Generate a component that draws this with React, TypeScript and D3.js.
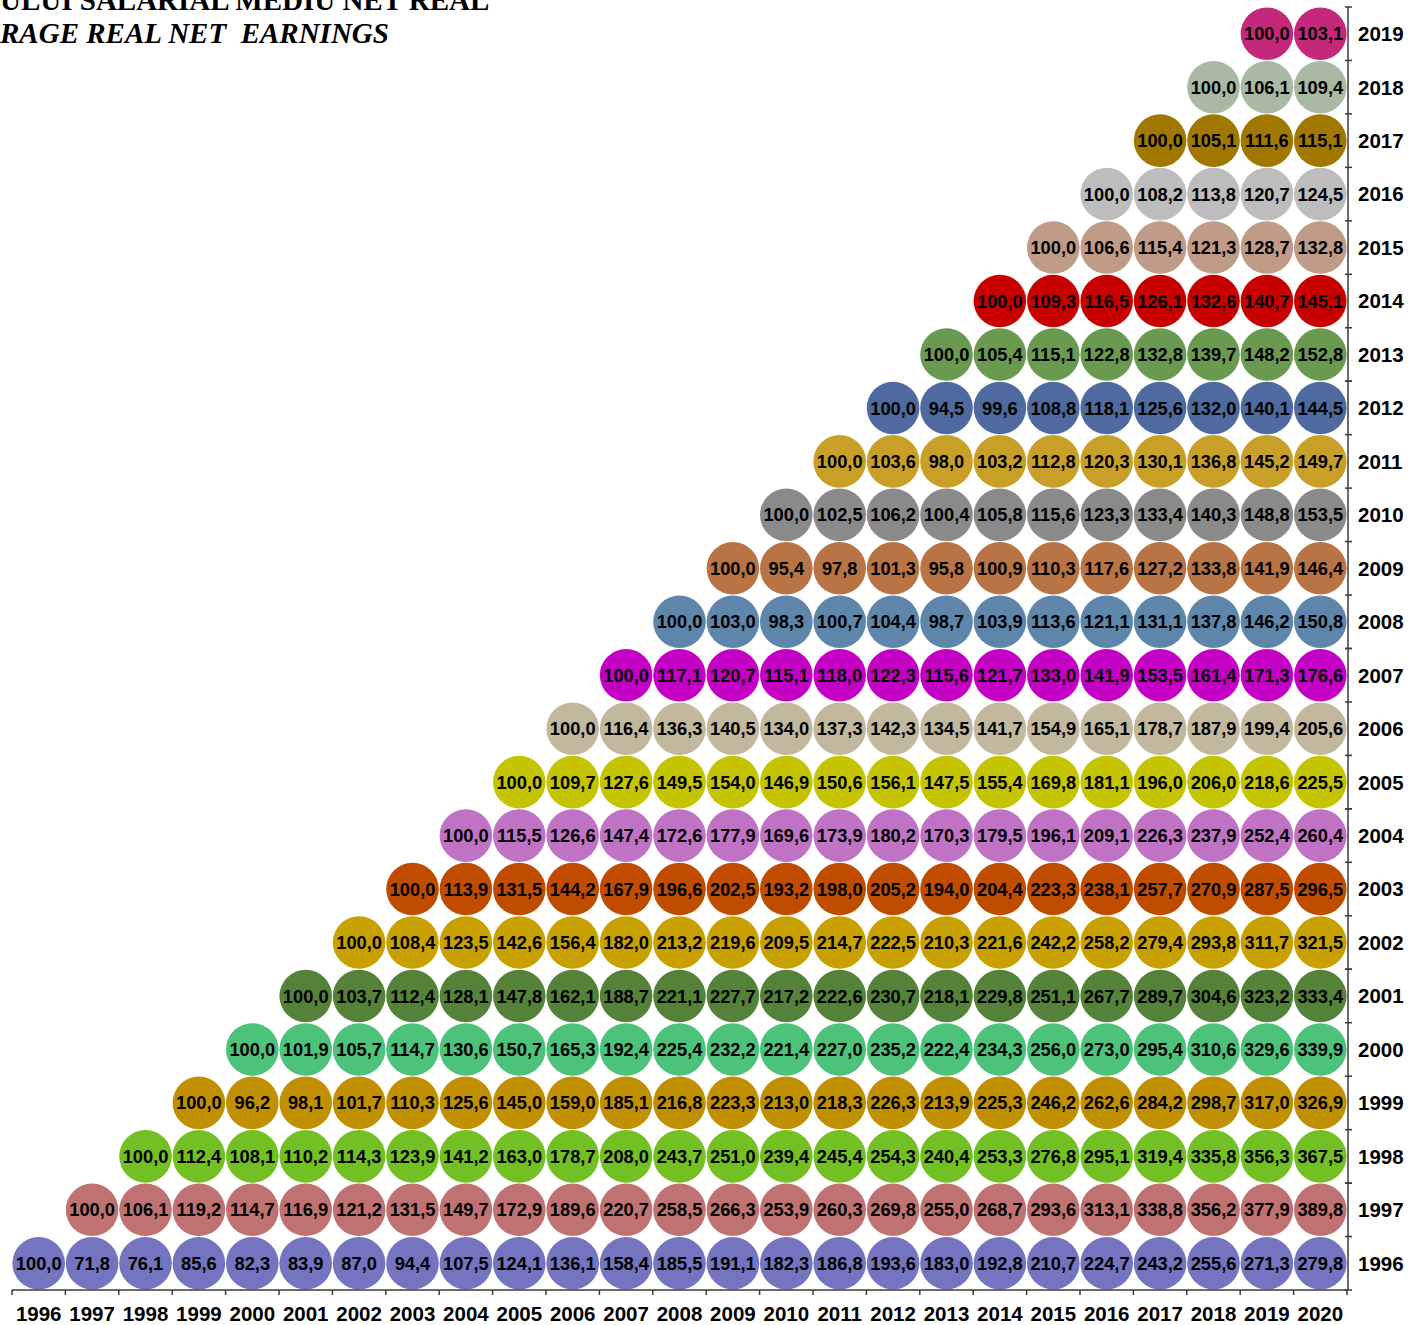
import React from "react";
import * as d3 from "d3";

const colYears = [1996, 1997, 1998, 1999, 2000, 2001, 2002, 2003, 2004, 2005, 2006, 2007, 2008, 2009, 2010, 2011, 2012, 2013, 2014, 2015, 2016, 2017, 2018, 2019, 2020];
const baseYears = [1996, 1997, 1998, 1999, 2000, 2001, 2002, 2003, 2004, 2005, 2006, 2007, 2008, 2009, 2010, 2011, 2012, 2013, 2014, 2015, 2016, 2017, 2018, 2019];

const r1996 = [100.0, 71.8, 76.1, 85.6, 82.3, 83.9, 87.0, 94.4, 107.5, 124.1, 136.1, 158.4, 185.5, 191.1, 182.3, 186.8, 193.6, 183.0, 192.8, 210.7, 224.7, 243.2, 255.6, 271.3, 279.8];
const r1997 = [100.0, 106.1, 119.2, 114.7, 116.9, 121.2, 131.5, 149.7, 172.9, 189.6, 220.7, 258.5, 266.3, 253.9, 260.3, 269.8, 255.0, 268.7, 293.6, 313.1, 338.8, 356.2, 377.9, 389.8];
const r1998 = [100.0, 112.4, 108.1, 110.2, 114.3, 123.9, 141.2, 163.0, 178.7, 208.0, 243.7, 251.0, 239.4, 245.4, 254.3, 240.4, 253.3, 276.8, 295.1, 319.4, 335.8, 356.3, 367.5];
const r1999 = [100.0, 96.2, 98.1, 101.7, 110.3, 125.6, 145.0, 159.0, 185.1, 216.8, 223.3, 213.0, 218.3, 226.3, 213.9, 225.3, 246.2, 262.6, 284.2, 298.7, 317.0, 326.9];
const r2000 = [100.0, 101.9, 105.7, 114.7, 130.6, 150.7, 165.3, 192.4, 225.4, 232.2, 221.4, 227.0, 235.2, 222.4, 234.3, 256.0, 273.0, 295.4, 310.6, 329.6, 339.9];
const r2001 = [100.0, 103.7, 112.4, 128.1, 147.8, 162.1, 188.7, 221.1, 227.7, 217.2, 222.6, 230.7, 218.1, 229.8, 251.1, 267.7, 289.7, 304.6, 323.2, 333.4];
const r2002 = [100.0, 108.4, 123.5, 142.6, 156.4, 182.0, 213.2, 219.6, 209.5, 214.7, 222.5, 210.3, 221.6, 242.2, 258.2, 279.4, 293.8, 311.7, 321.5];
const r2003 = [100.0, 113.9, 131.5, 144.2, 167.9, 196.6, 202.5, 193.2, 198.0, 205.2, 194.0, 204.4, 223.3, 238.1, 257.7, 270.9, 287.5, 296.5];
const r2004 = [100.0, 115.5, 126.6, 147.4, 172.6, 177.9, 169.6, 173.9, 180.2, 170.3, 179.5, 196.1, 209.1, 226.3, 237.9, 252.4, 260.4];
const r2005 = [100.0, 109.7, 127.6, 149.5, 154.0, 146.9, 150.6, 156.1, 147.5, 155.4, 169.8, 181.1, 196.0, 206.0, 218.6, 225.5];
const r2006 = [100.0, 116.4, 136.3, 140.5, 134.0, 137.3, 142.3, 134.5, 141.7, 154.9, 165.1, 178.7, 187.9, 199.4, 205.6];
const r2007 = [100.0, 117.1, 120.7, 115.1, 118.0, 122.3, 115.6, 121.7, 133.0, 141.9, 153.5, 161.4, 171.3, 176.6];
const r2008 = [100.0, 103.0, 98.3, 100.7, 104.4, 98.7, 103.9, 113.6, 121.1, 131.1, 137.8, 146.2, 150.8];
const r2009 = [100.0, 95.4, 97.8, 101.3, 95.8, 100.9, 110.3, 117.6, 127.2, 133.8, 141.9, 146.4];
const r2010 = [100.0, 102.5, 106.2, 100.4, 105.8, 115.6, 123.3, 133.4, 140.3, 148.8, 153.5];
const r2011 = [100.0, 103.6, 98.0, 103.2, 112.8, 120.3, 130.1, 136.8, 145.2, 149.7];
const r2012 = [100.0, 94.5, 99.6, 108.8, 118.1, 125.6, 132.0, 140.1, 144.5];
const r2013 = [100.0, 105.4, 115.1, 122.8, 132.8, 139.7, 148.2, 152.8];
const r2014 = [100.0, 109.3, 116.5, 126.1, 132.6, 140.7, 145.1];
const r2015 = [100.0, 106.6, 115.4, 121.3, 128.7, 132.8];
const r2016 = [100.0, 108.2, 113.8, 120.7, 124.5];
const r2017 = [100.0, 105.1, 111.6, 115.1];
const r2018 = [100.0, 106.1, 109.4];
const r2019 = [100.0, 103.1];

const rows = [r1996, r1997, r1998, r1999, r2000, r2001, r2002, r2003, r2004, r2005, r2006, r2007, r2008, r2009, r2010, r2011, r2012, r2013, r2014, r2015, r2016, r2017, r2018, r2019];

const rowColors = [
  "#7474C0", "#C07272", "#72C024", "#C09000", "#4CC27A", "#548238",
  "#C8A000", "#C04C00", "#C072C4", "#C4C400", "#C2B89E", "#C400C4",
  "#5E86AA", "#B87444", "#8A8A8A", "#C8A028", "#4E6A9E", "#6A9A50",
  "#C80000", "#C09C88", "#BDBDBD", "#A07800", "#A9B9A3", "#C4287A",
];

const titleLine1 = "ULUI SALARIAL MEDIU NET REAL";
const titleLine2 = "RAGE REAL NET  EARNINGS";

const W = 1413;
const H = 1325;
const fmt = (v: number) => d3.format(".1f")(v).replace(".", ",");

export default function App() {
  const x = d3.scaleBand<number>().domain(colYears).range([12, 1347]);
  const y = d3.scaleBand<number>().domain(baseYears).range([1290, 7]);
  const bw = x.bandwidth();
  const bh = y.bandwidth();
  const r = 26.3;
  const axisX = 1348;
  const axisY = 1290;
  const axisColor = "#3a3a3a";

  const points: { cx: number; cy: number; v: number; color: string; key: string }[] = [];
  rows.forEach((vals, ri) => {
    const base = baseYears[ri];
    vals.forEach((v, k) => {
      const col = base + k;
      points.push({
        cx: (x(col) as number) + bw / 2,
        cy: (y(base) as number) + bh / 2,
        v,
        color: rowColors[ri],
        key: `${base}-${col}`,
      });
    });
  });

  const xTicks = colYears.map((c) => x(c) as number).concat([(x(colYears[colYears.length - 1]) as number) + bw]);
  const yEdges = Array.from(new Set(baseYears.map((b) => y(b) as number).concat(baseYears.map((b) => (y(b) as number) + bh))));

  return (
    <svg width={W} height={H} style={{ position: "absolute", left: 0, top: 0, background: "#fff" }}>
      <text x={0} y={10} fontFamily="'Liberation Serif', 'Times New Roman', serif" fontWeight="bold" fontSize={29} fill="#000" style={{ whiteSpace: "pre" }}>
        {titleLine1}
      </text>
      <text x={0} y={43} fontFamily="'Liberation Serif', 'Times New Roman', serif" fontWeight="bold" fontStyle="italic" fontSize={29} fill="#000" style={{ whiteSpace: "pre" }}>
        {titleLine2}
      </text>

      {points.map((p) => (
        <g key={p.key}>
          <circle cx={p.cx} cy={p.cy} r={r} fill={p.color} />
          <text
            x={p.cx}
            y={p.cy}
            dy="0.36em"
            textAnchor="middle"
            fontFamily="'Liberation Sans', Arial, sans-serif"
            fontWeight="bold"
            fontSize={18.3}
            fill="#000"
          >
            {fmt(p.v)}
          </text>
        </g>
      ))}

      <line x1={12} x2={axisX} y1={axisY} y2={axisY} stroke={axisColor} strokeWidth={1.5} />
      {xTicks.map((t, i) => (
        <line key={`xt${i}`} x1={t} x2={t} y1={axisY} y2={axisY + 5} stroke={axisColor} strokeWidth={1.5} />
      ))}
      {colYears.map((c) => (
        <text
          key={`xl${c}`}
          x={(x(c) as number) + bw / 2}
          y={1321}
          textAnchor="middle"
          fontFamily="'Liberation Sans', Arial, sans-serif"
          fontWeight="bold"
          fontSize={20.5}
          fill="#000"
        >
          {c}
        </text>
      ))}

      <line x1={axisX} x2={axisX} y1={7} y2={axisY} stroke={axisColor} strokeWidth={1.5} />
      {yEdges.map((t, i) => (
        <line key={`yt${i}`} x1={axisX - 3} x2={axisX + 4} y1={t} y2={t} stroke={axisColor} strokeWidth={1.5} />
      ))}
      {baseYears.map((b) => (
        <text
          key={`yl${b}`}
          x={1358}
          y={(y(b) as number) + bh / 2}
          dy="0.36em"
          textAnchor="start"
          fontFamily="'Liberation Sans', Arial, sans-serif"
          fontWeight="bold"
          fontSize={20.5}
          fill="#000"
        >
          {b}
        </text>
      ))}
    </svg>
  );
}
